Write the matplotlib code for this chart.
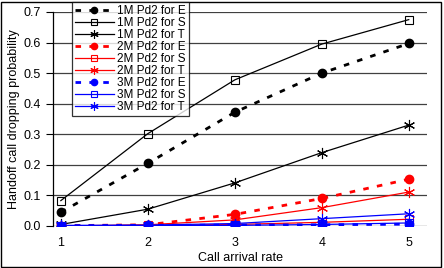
import matplotlib
matplotlib.use('Agg')
import matplotlib.pyplot as plt
from matplotlib.patches import Rectangle

plt.rcParams['font.family'] = ['Liberation Sans', 'DejaVu Sans']

rates = [1, 2, 3, 4, 5]

m1_e = [0.045, 0.205, 0.372, 0.500, 0.597]
m1_s = [0.083, 0.302, 0.478, 0.595, 0.675]
m1_t = [0.005, 0.055, 0.141, 0.240, 0.330]
m2_e = [0.001, 0.004, 0.038, 0.090, 0.153]
m2_s = [0.000, 0.002, 0.005, 0.012, 0.022]
m2_t = [0.000, 0.004, 0.020, 0.060, 0.111]
m3_e = [0.001, 0.002, 0.003, 0.004, 0.006]
m3_s = [0.000, 0.001, 0.002, 0.005, 0.010]
m3_t = [0.002, 0.003, 0.008, 0.024, 0.040]

series = [
    ('1M Pd2 for E', m1_e, 'black', 'E'),
    ('1M Pd2 for S', m1_s, 'black', 'S'),
    ('1M Pd2 for T', m1_t, 'black', 'T'),
    ('2M Pd2 for E', m2_e, 'red', 'E'),
    ('2M Pd2 for S', m2_s, 'red', 'S'),
    ('2M Pd2 for T', m2_t, 'red', 'T'),
    ('3M Pd2 for E', m3_e, 'blue', 'E'),
    ('3M Pd2 for S', m3_s, 'blue', 'S'),
    ('3M Pd2 for T', m3_t, 'blue', 'T'),
]

fig = plt.figure(figsize=(4.44, 2.68), dpi=100)
ax = fig.add_axes([53 / 444, 42 / 268, 374 / 444, 214 / 268])

for label, vals, col, kind in series:
    if kind == 'E':
        ax.plot(rates, vals, color=col, linestyle=(0, (2, 3)), linewidth=2,
                marker='o', markersize=6, label=label)
    elif kind == 'S':
        ax.plot(rates, vals, color=col, linewidth=0.9, marker='s', markersize=6,
                markerfacecolor='none', markeredgewidth=0.8, label=label)
    else:
        ax.plot(rates, vals, color=col, linewidth=0.9, marker=(6, 2, 0),
                markersize=8, markeredgewidth=0.8, label=label)

ax.set_xlim(0.91, 5.21)
ax.set_ylim(0, 0.7)
ax.set_yticks([0, 0.1, 0.2, 0.3, 0.4, 0.5, 0.6, 0.7])
ax.set_yticklabels(['0.0', '0.1', '0.2', '0.3', '0.4', '0.5', '0.6', '0.7'])
ax.set_xticks(rates)
ax.tick_params(axis='x', length=0, labelsize=9, pad=8)
ax.tick_params(axis='y', length=5, width=0.8, labelsize=9, direction='out')
ax.yaxis.grid(True, color='#404040', linewidth=0.9)
ax.set_axisbelow(True)
for side in ['top', 'right', 'bottom']:
    ax.spines[side].set_visible(False)
ax.spines['left'].set_linewidth(0.9)

ax.set_xlabel('Call arrival rate', fontsize=9, labelpad=2)
ax.set_ylabel('Handoff call dropping probability', fontsize=9, labelpad=3)

leg = fig.legend(loc='upper left', bbox_to_anchor=(72 / 444, 1 - 2 / 268),
                 fontsize=8.5, handlelength=3.3, handletextpad=0.3,
                 labelspacing=0.0, borderpad=0.25, borderaxespad=0,
                 markerscale=0.75, frameon=True, fancybox=False)
leg.get_frame().set_edgecolor('black')
leg.get_frame().set_linewidth(0.9)

fig.patches.append(Rectangle((0.003, 0.004), 0.991, 0.99, transform=fig.transFigure,
                             fill=False, edgecolor='black', linewidth=1))

fig.savefig('out.png', dpi=100)
